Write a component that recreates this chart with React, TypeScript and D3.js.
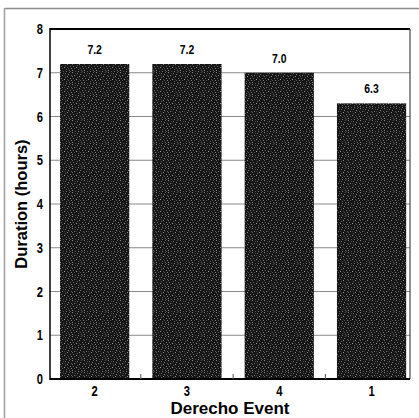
import React from "react";
import * as d3 from "d3";

const categories = ["2", "3", "4", "1"];
const durations = [7.2, 7.2, 7.0, 6.3];
const valueLabels = ["7.2", "7.2", "7.0", "6.3"];
const yTicks = [0, 1, 2, 3, 4, 5, 6, 7, 8];

const W = 419;
const H = 418;
const plotLeft = 50;
const plotRight = 410;
const plotTop = 29;
const plotBottom = 379;

const speckles: [number, number, string][] = [
  [0, 0, "#8a8a8a"], [5, 1, "#6a6a6a"], [9, 0, "#555"], [2, 3, "#777"], [7, 4, "#8f8f8f"],
  [11, 3, "#5e5e5e"], [1, 6, "#666"], [4, 7, "#9a9a9a"], [10, 6, "#707070"], [6, 9, "#5a5a5a"],
  [0, 10, "#888"], [9, 10, "#6c6c6c"], [3, 11, "#4e4e4e"], [8, 8, "#505050"],
  [3, 1, "#4a4a4a"], [8, 2, "#7c7c7c"], [5, 5, "#5c5c5c"], [0, 4, "#646464"], [11, 8, "#828282"],
  [2, 8, "#585858"], [6, 11, "#767676"], [10, 11, "#4c4c4c"], [4, 3, "#3e3e3e"], [7, 7, "#444"],
];

export default function App() {
  const y = d3.scaleLinear().domain([0, 8]).range([plotBottom, plotTop]);
  const x = d3
    .scaleBand<string>()
    .domain(categories)
    .range([48.5, 417.7])
    .paddingInner(0.25)
    .paddingOuter(0.125);
  const step = x.step();
  const bw = x.bandwidth();
  const boundaries = categories.slice(0, -1).map((c) => (x(c) as number) + bw + (step - bw) / 2);
  const sans = "'Liberation Sans', Arial, Helvetica, sans-serif";

  const condensed = (cx: number, cy: number, txt: string, anchor: string, size: number, key: string) => (
    <text
      key={key}
      transform={`translate(${cx},${cy}) scale(0.8,1)`}
      textAnchor={anchor}
      fontFamily={sans}
      fontWeight="bold"
      fontSize={size}
      fill="#000"
    >
      {txt}
    </text>
  );

  return (
    <div style={{ position: "absolute", left: 0, top: 0 }}>
      <svg width={W} height={H} style={{ display: "block", background: "#fff" }}>
        <defs>
          <pattern id="speckle" width="12" height="12" patternUnits="userSpaceOnUse">
            <rect width="12" height="12" fill="#161616" />
            {speckles.map(([sx, sy, c], i) => (
              <rect key={i} x={sx} y={sy} width="1" height="1" fill={c} />
            ))}
          </pattern>
        </defs>
        {/* outer frame */}
        <line x1={4.5} x2={419} y1={8.5} y2={8.5} stroke="#8c8c8c" strokeWidth={1.5} />
        <line x1={4.5} x2={4.5} y1={8} y2={418} stroke="#a0a0a0" strokeWidth={1.5} />
        {/* gridlines */}
        {yTicks.filter((t) => t > 0 && t < 8).map((t) => (
          <line key={t} x1={plotLeft} x2={plotRight} y1={y(t)} y2={y(t)} stroke="#8a8a8a" strokeWidth={1} />
        ))}
        {/* bars */}
        {categories.map((c, i) => (
          <rect
            key={c}
            x={x(c)}
            y={y(durations[i])}
            width={bw}
            height={plotBottom - y(durations[i])}
            fill="url(#speckle)"
          />
        ))}
        {/* value labels */}
        {categories.map((c, i) =>
          condensed((x(c) as number) + bw / 2, y(durations[i]) - 10, valueLabels[i], "middle", 13, "v" + c)
        )}
        {/* frame */}
        <line x1={plotLeft} x2={plotRight} y1={plotTop} y2={plotTop} stroke="#000" strokeWidth={2} />
        <line x1={plotRight} x2={plotRight} y1={plotTop} y2={plotBottom} stroke="#222" strokeWidth={1} />
        <line x1={plotLeft} x2={plotLeft} y1={plotTop - 1} y2={plotBottom + 1} stroke="#000" strokeWidth={1.5} />
        <line x1={plotLeft} x2={plotRight} y1={plotBottom} y2={plotBottom} stroke="#000" strokeWidth={2} />
        {/* x minor ticks */}
        {boundaries.map((b, i) => (
          <line key={i} x1={b} x2={b} y1={plotBottom - 5} y2={plotBottom} stroke="#555" strokeWidth={1} />
        ))}
        {/* y tick labels */}
        {yTicks.map((t) => condensed(43, y(t) + 5, String(t), "end", 14, "y" + t))}
        {/* x tick labels */}
        {categories.map((c) => condensed((x(c) as number) + bw / 2, 396, c, "middle", 14, "x" + c))}
        {/* axis titles */}
        <text
          x={(plotLeft + plotRight) / 2}
          y={414}
          textAnchor="middle"
          fontFamily={sans}
          fontWeight="bold"
          fontSize={17}
          fill="#000"
        >
          Derecho Event
        </text>
        <text
          transform={`translate(21,${(plotTop + plotBottom) / 2}) rotate(-90)`}
          textAnchor="middle"
          dominantBaseline="central"
          fontFamily={sans}
          fontWeight="bold"
          fontSize={16.5}
          fill="#000"
        >
          Duration (hours)
        </text>
      </svg>
    </div>
  );
}
